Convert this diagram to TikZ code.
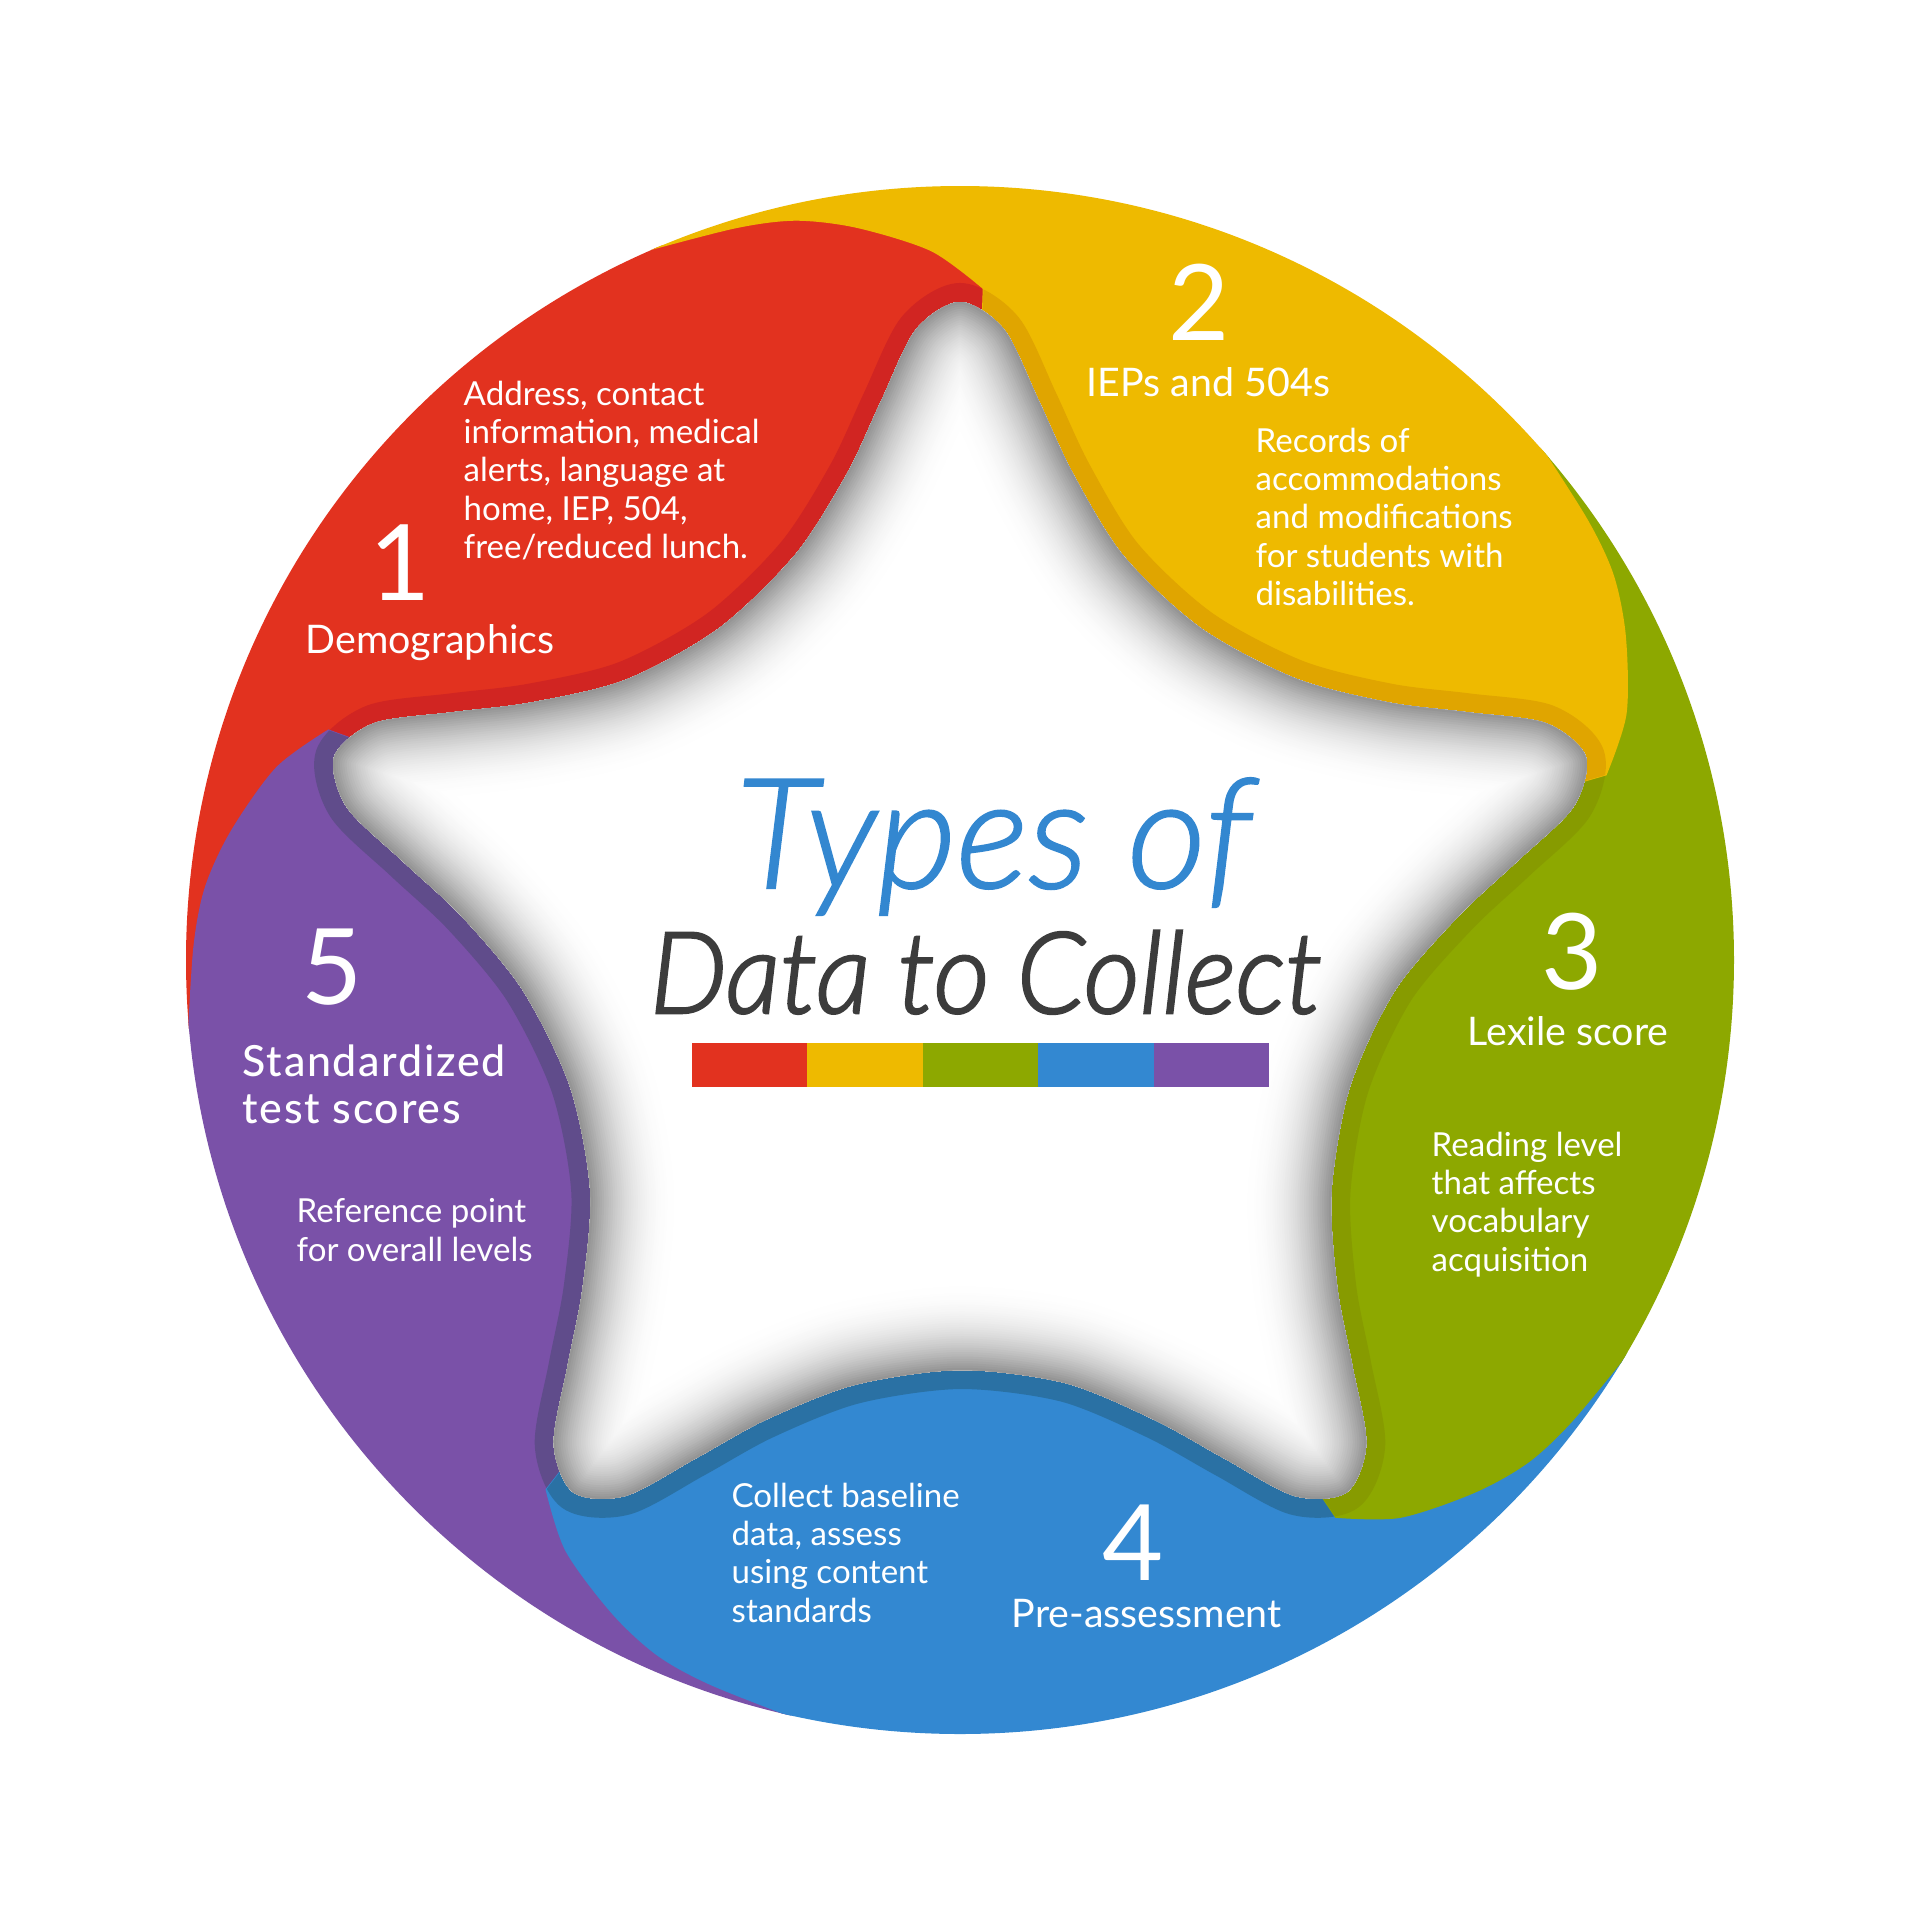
\documentclass[tikz,border=0pt]{standalone}
\usepackage{fontspec}
\setmainfont{Lato}
\newfontfamily\titleit{Lato Light Italic}[FakeBold=1.3]
\newfontfamily\subit{Lato Light Italic}[FakeStretch=0.96, FakeBold=2.2]
\newfontfamily\medfont{Lato Medium}[LetterSpace=4]

\definecolor{cRed}{HTML}{E2321F}
\definecolor{cRedD}{HTML}{D12522}
\definecolor{cYel}{HTML}{EEBA00}
\definecolor{cYelD}{HTML}{E0A500}
\definecolor{cGrn}{HTML}{8DA800}
\definecolor{cGrnD}{HTML}{879B00}
\definecolor{cBlu}{HTML}{3388D1}
\definecolor{cBluD}{HTML}{2A71A4}
\definecolor{cPur}{HTML}{7A51A8}
\definecolor{cPurD}{HTML}{604C8B}
\definecolor{tBlue}{HTML}{3387D0}
\definecolor{tGray}{HTML}{3C3C3C}

% star outline points (polar, pixels)
\def\starpts{}
\foreach \kk in {0,...,4}{%
  \foreach \oo/\rr in {0/658,4/632,8/565,13/500,22/438,36/410,50/436,59/500,64/565,68/632}{%
    \pgfmathsetmacro\aa{90+72*\kk+\oo}%
    \xdef\starpts{\starpts(\aa:\rr)}%
  }%
}
\edef\tmpdef{\noexpand\tikzset{starpath/.style={insert path={plot[smooth cycle] coordinates {\starpts}}}}}
\tmpdef

\tikzset{
  region/.style={insert path={(0,0) -- ({#1-2}:560) -- plot[smooth] coordinates {({#1-2}:672) ({#1+2.3}:710) ({#1+8}:740) ({#1+12.5}:758) ({#1+17}:766) ({#1+24}:776)} -- ({#1+24}:900) -- ({#1+48}:900) -- ({#1+72}:900) -- ({#1+96}:900) -- ({#1+96}:776) -- plot[smooth] coordinates {({#1+96}:776) ({#1+89}:766) ({#1+84.5}:758) ({#1+80}:740) ({#1+74.3}:710) ({#1+70}:672)} -- ({#1+70}:560) -- cycle}},
  num/.style={text=white, font=\fontsize{30}{36}\selectfont, inner sep=0pt, anchor=base},
  head/.style={text=white, font=\fontsize{11.2}{13}\selectfont, inner sep=0pt, anchor=base west},
  body/.style={text=white, font=\fontsize{9.4}{10.9}\selectfont, inner sep=0pt, anchor=north west, align=left},
}

\begin{document}
\begin{tikzpicture}[x=0.01cm, y=-0.01cm]
\useasboundingbox (0,0) rectangle (1920,1920);
\fill[white] (0,0) rectangle (1920,1920);

\begin{scope}[shift={(960,960)}, yscale=-1]
  \clip (0,0) circle[radius=774];
  \foreach \kk/\col/\dcol in {0/cRed/cRedD, 1/cPur/cPurD, 2/cBlu/cBluD, 3/cGrn/cGrnD, 4/cYel/cYelD}{
    \pgfmathsetmacro\ang{90+72*\kk}
    \fill[\col, draw=\col, line width=0.4pt, region=\ang];
    \begin{scope}
      \clip[region=\ang];
      \draw[\dcol, line width=0.38cm, starpath];
    \end{scope}
  }
  \begin{scope}
    \clip[starpath];
    \fill[white, starpath];
    \foreach \ii in {40,...,1}{
      \pgfmathsetmacro\ww{0.045*\ii}
      \pgfmathsetmacro\cc{44*(1-\ii/40)^2.2}
      \draw[line width=\ww cm, black!\cc, starpath];
    }
  \end{scope}
\end{scope}

% title
\node[font=\titleit\fontsize{43.7}{50}\selectfont, text=tBlue, anchor=base, inner sep=0pt] (title1) at (994,888) {Types of};
\node[font=\subit\fontsize{32.2}{38}\selectfont, text=tGray, anchor=base, inner sep=0pt] (title2) at (986,1013) {Data to Collect};
\foreach \ii/\col in {0/cRed,1/cYel,2/cGrn,3/cBlu,4/cPur}{
  \fill[\col] ({692+115.4*\ii},1043) rectangle ({692+115.4*(\ii+1)},1087);
}

% numbers
\node[num] (n1) at (400,600) {1};
\node[num] (n2) at (1199,340) {2};
\node[num] (n3) at (1572,989) {3};
\node[num] (n4) at (1133,1580) {4};
\node[num] (n5) at (332,1004) {5};

% headings
\node[head] (h1) at (305,653) {Demographics};
\node[head] (h2) at (1086,396) {IEPs and 504s};
\node[head] (h3) at (1467,1045) {Lexile score};
\node[head] (h4) at (1011,1627) {Pre-assessment};
\node[text=white, font=\medfont\fontsize{12.2}{13.4}\selectfont, inner sep=0pt, anchor=north west, align=left] (h5) at (242,1044) {Standardized\\test scores};

% body texts
\node[body] (b1) at (463,380) {Address, contact\\information, medical\\alerts, language at\\home, IEP, 504,\\free/reduced lunch.};
\node[body] (b2) at (1255,427) {Records of\\accommodations\\and modifications\\for students with\\disabilities.};
\node[body] (b3) at (1431,1131) {Reading level\\that affects\\vocabulary\\acquisition};
\node[body] (b4) at (731,1482) {Collect baseline\\data, assess\\using content\\standards};
\node[body] (b5) at (296,1198) {Reference point\\for overall levels};
\end{tikzpicture}
\end{document}
